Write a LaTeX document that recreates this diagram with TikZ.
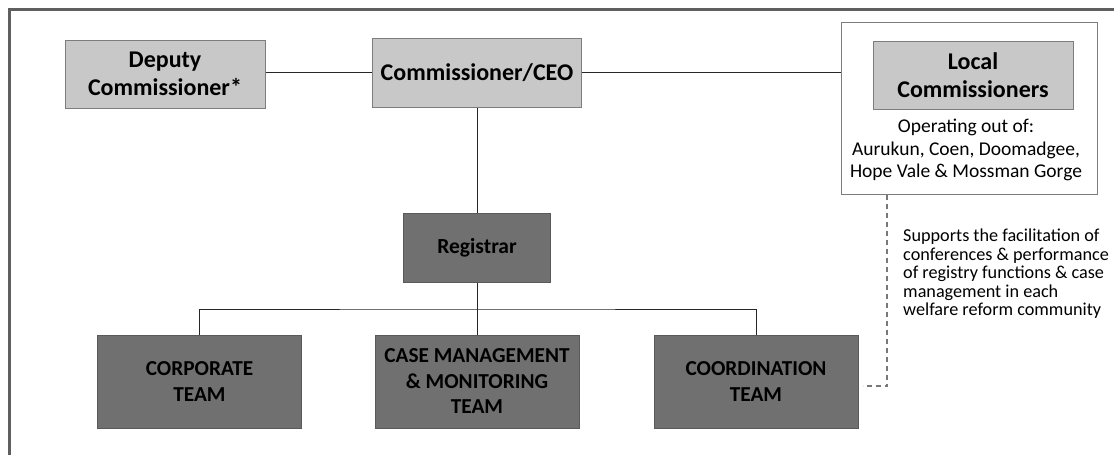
\documentclass[tikz,border=0pt]{standalone}
\usepackage{fontspec}
\setmainfont{Carlito}
\definecolor{framegray}{RGB}{95,95,95}
\definecolor{lightfill}{RGB}{200,200,200}
\definecolor{lightedge}{RGB}{125,125,125}
\definecolor{darkfill}{RGB}{112,112,112}
\definecolor{darkedge}{RGB}{90,90,90}
\definecolor{dashgray}{RGB}{120,120,120}
\tikzset{
  headbox/.style={draw=lightedge, fill=lightfill, line width=1pt, inner sep=0pt,
    align=center, font=\fontsize{24}{27.5}\selectfont\bfseries},
  teambox/.style={draw=darkedge, fill=darkfill, line width=1pt, inner sep=0pt,
    minimum width=204pt, minimum height=93pt, align=center,
    font=\fontsize{21.3}{25.5}\selectfont\bfseries},
  link/.style={draw=black!85, line width=1pt},
  supportline/.style={draw=dashgray, line width=1.1pt, dash pattern=on 5pt off 4pt},
}
\begin{document}
\begin{tikzpicture}[x=1pt, y=-1pt]
      \useasboundingbox (0,0) rectangle (1114,455);
      \fill[white] (0,0) rectangle (1114,455);
      \draw[framegray, line width=3.3pt] (9.5,470) -- (9.5,9.5) -- (1130,9.5);
      %
      \node[headbox, minimum width=200pt, minimum height=68pt] (dep) at (165,74) {Deputy\\Commissioner*};
      \node[headbox, minimum width=209pt, minimum height=69pt] (ceo) at (477,72.5) {Commissioner/CEO};
      \node[draw=lightedge, line width=1pt, minimum width=256pt, minimum height=172pt] (local) at (969,108) {};
      \node[headbox, minimum width=200pt, minimum height=68pt] (lcom) at (973,75) {Local\\Commissioners};
      \node[align=center, font=\fontsize{19.5}{22.5}\selectfont] (ops) at (966,150)
        {Operating out of:\\Aurukun, Coen, Doomadgee,\\Hope Vale \& Mossman Gorge};
      %
      \node[draw=darkedge, fill=darkfill, line width=1pt, minimum width=147pt, minimum height=69pt,
        font=\fontsize{21.5}{24}\selectfont\bfseries] (reg) at (477,247.5) {Registrar};
      %
      \node[teambox] (corp) at (199.5,381.5) {CORPORATE\\TEAM};
      \node[teambox] (case) at (477,381.5) {CASE MANAGEMENT\\\& MONITORING\\TEAM};
      \node[teambox] (coord) at (756,381.5) {COORDINATION\\TEAM};
      %
      \node[anchor=north west, align=left, inner sep=0pt,
        font=\fontsize{18.2}{18.4}\selectfont] (supp) at (903,229)
        {Supports the facilitation of\\conferences \& performance\\of registry functions \& case\\management in each\\welfare reform community};
      %
      \coordinate (bus) at (477,309);
      \coordinate (turn) at (887,386);
      %
      \draw[link] (ceo.west -| dep.east) -- (ceo.west);
      \draw[link] (ceo.east) -- (ceo.east -| local.west);
      \draw[link] (ceo.south) -- (reg.north);
      \draw[link] (reg.south) -- (case.north);
      \draw[link] (corp.north) |- (bus) -| (coord.north);
      \draw[supportline] (local.south -| turn) -- (turn) -- ([xshift=4pt]coord.east |- turn);
      %
    \end{tikzpicture}
\end{document}
